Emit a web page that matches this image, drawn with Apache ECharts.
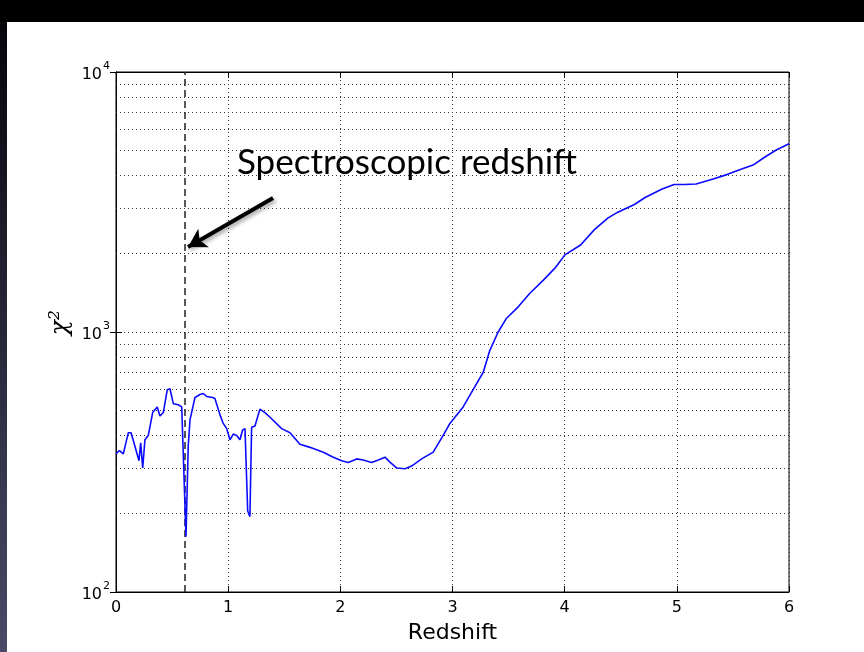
<!DOCTYPE html>
<html>
<head>
<meta charset="utf-8">
<style>
html,body{margin:0;padding:0;background:#000;}
#c{width:864px;height:652px;}
</style>
<script src="https://cdn.jsdelivr.net/npm/echarts@6/dist/echarts.min.js"></script>
</head>
<body>
<div id="c"></div>
<script>
// ---- data ----
const redshift = [0,0.03,0.065,0.11,0.134,0.16,0.205,0.22,0.238,0.258,0.288,0.327,0.368,0.392,0.422,0.457,0.481,0.511,0.555,0.586,0.6,0.624,0.644,0.66,0.675,0.704,0.749,0.778,0.808,0.862,0.882,0.927,0.956,0.987,1.016,1.045,1.076,1.105,1.129,1.15,1.165,1.174,1.194,1.209,1.239,1.283,1.328,1.373,1.477,1.551,1.64,1.729,1.848,1.937,2.012,2.07,2.145,2.204,2.279,2.338,2.398,2.442,2.502,2.576,2.635,2.725,2.828,2.917,2.977,3.095,3.184,3.274,3.333,3.407,3.482,3.586,3.69,3.808,3.913,4.002,4.142,4.263,4.384,4.474,4.626,4.717,4.869,4.975,5.066,5.172,5.324,5.446,5.566,5.686,5.779,5.882,6.0];
const chi2 = [340,350,340,410,410,375,320,375,300,385,400,490,515,475,490,600,605,530,525,515,510,163,365,460,465,560,575,580,565,560,555,480,445,425,385,405,400,385,420,425,270,205,195,430,435,505,490,470,425,410,370,360,345,330,320,315,325,322,315,322,330,316,300,298,305,325,345,400,445,515,600,700,850,1000,1130,1250,1410,1580,1760,1980,2160,2470,2740,2890,3100,3290,3550,3690,3690,3710,3880,4030,4220,4400,4690,5000,5300];
const xTicks = [0,1,2,3,4,5,6];
const minorGridY = [200,300,400,500,600,700,800,900,2000,3000,4000,5000,6000,7000,8000,9000];
const specZ = 0.615;
const annotationText = 'Spectroscopic redshift';
const arrowStart = [1.40, 3275];
const arrowEnd = [0.642, 2123];

const chart = echarts.init(document.getElementById('c'));
const points = redshift.map((z,i)=>[z, chi2[i]]);

const tickFont = 'DejaVu Sans';

chart.setOption({
  backgroundColor: '#000',
  animation: false,
  graphic: [
    {type:'rect', z:-100, shape:{x:7,y:22,width:857,height:630}, style:{fill:'#fff'}},
    {type:'rect', z:-100, shape:{x:0,y:22,width:7,height:630},
      style:{fill:new echarts.graphic.LinearGradient(0,0,0,1,[{offset:0,color:'#05050c'},{offset:1,color:'#4a4a68'}])}},
    {type:'text', z:50, left:237, top:145,
      style:{text:annotationText, font:'35px Lato', fill:'#000'}},
    {type:'text', z:50, left:48, top:310, rotation:Math.PI/2,
      style:{text:'χ²', font:'italic 25px "DejaVu Serif"', fill:'#000'}}
  ],
  grid: {left:116, right:75, top:72, bottom:60, show:true, borderColor:'#000', borderWidth:1, backgroundColor:'transparent'},
  xAxis: [{
    type:'value', min:0, max:6, interval:1,
    name:'Redshift', nameLocation:'middle', nameGap:30,
    nameTextStyle:{fontFamily:tickFont, fontSize:22, color:'#000'},
    axisLine:{show:true, lineStyle:{color:'#000', width:1}},
    axisTick:{show:true, inside:true, length:6, lineStyle:{color:'#000'}},
    axisLabel:{fontFamily:tickFont, fontSize:16, color:'#000', margin:8,
      formatter:v=> xTicks.includes(v) ? String(v) : ''},
    splitLine:{show:true, lineStyle:{color:'#333', type:[1,3], width:1}}
  },{
    type:'value', min:0, max:6, interval:1, position:'top',
    axisLine:{show:true, lineStyle:{color:'#000'}},
    axisTick:{show:true, inside:true, length:6, lineStyle:{color:'#000'}},
    axisLabel:{show:false}, splitLine:{show:false}
  }],
  yAxis: [{
    type:'log', logBase:10, min:100, max:10000,
    axisLine:{show:true, lineStyle:{color:'#000'}},
    axisTick:{show:true, inside:true, length:6, lineStyle:{color:'#000'}},
    axisLabel:{color:'#000', margin:6,
      formatter:v=>'{b|10}{s|'+Math.round(Math.log10(v))+'}',
      rich:{
        b:{fontFamily:tickFont, fontSize:16, color:'#000', lineHeight:22, verticalAlign:'bottom'},
        s:{fontFamily:tickFont, fontSize:11, color:'#000', lineHeight:22, verticalAlign:'top', padding:[0,0,0,1]}
      }},
    splitLine:{show:true, lineStyle:{color:'#333', type:[1,3], width:1}}
  },{
    type:'log', logBase:10, min:100, max:10000, position:'right',
    axisLine:{show:true, lineStyle:{color:'#000'}},
    axisTick:{show:true, inside:true, length:6, lineStyle:{color:'#000'}},
    axisLabel:{show:false}, splitLine:{show:false}
  }],
  series: [
    {
      type:'line', data:[], z:1, silent:true,
      markLine:{silent:true, symbol:'none', label:{show:false},
        lineStyle:{color:'#333', type:[1,3], width:1},
        data: minorGridY.map(v=>({yAxis:v}))}
    },
    {
      type:'line', data:[], z:3, silent:true,
      markLine:{silent:true, symbol:'none', label:{show:false},
        lineStyle:{color:'#222', type:[7,4], width:1.5},
        data:[{xAxis:specZ}]}
    },
    {
      type:'line', data:points, z:5, showSymbol:false, symbol:'none',
      lineStyle:{color:'#0a0aff', width:1.6}
    },
    {
      type:'line', data:[], z:10, silent:true,
      markLine:{silent:true, symbol:['none','arrow'], symbolSize:[16,18], label:{show:false},
        lineStyle:{color:'#000', type:'solid', width:4, shadowBlur:4, shadowColor:'rgba(0,0,0,0.4)', shadowOffsetX:2, shadowOffsetY:2},
        data:[[{coord:arrowStart},{coord:arrowEnd}]]}
    }
  ]
});
</script>
</body>
</html>
